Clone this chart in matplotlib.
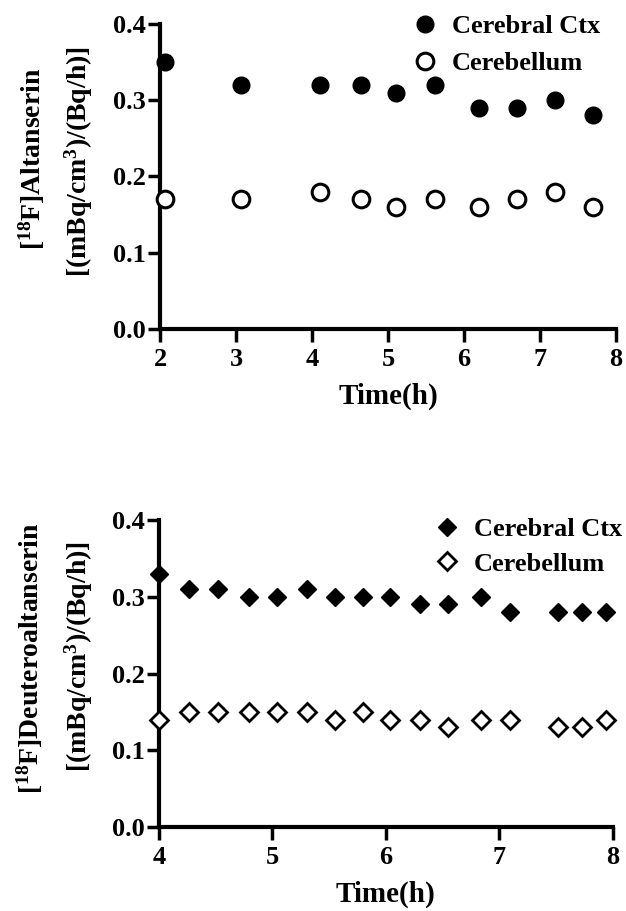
import numpy as np
import matplotlib
matplotlib.use("Agg")
import matplotlib.pyplot as plt
from matplotlib.lines import Line2D

plt.rcParams['font.family'] = 'Liberation Serif'
plt.rcParams['font.weight'] = 'bold'
plt.rcParams['mathtext.fontset'] = 'custom'
plt.rcParams['mathtext.rm'] = 'Liberation Serif:bold'
plt.rcParams['mathtext.bf'] = 'Liberation Serif:bold'
plt.rcParams['mathtext.default'] = 'bf'

# top panel: [18F]Altanserin
t_alt = [2.07, 3.07, 4.1, 4.64, 5.1, 5.62, 6.2, 6.7, 7.2, 7.7]
ctx_alt = [0.35, 0.32, 0.32, 0.32, 0.31, 0.32, 0.29, 0.29, 0.30, 0.28]
cb_alt = [0.17, 0.17, 0.18, 0.17, 0.16, 0.17, 0.16, 0.17, 0.18, 0.16]

# bottom panel: [18F]Deuteroaltanserin
t_deu = [4.0, 4.26, 4.52, 4.79, 5.04, 5.3, 5.55, 5.8, 6.04, 6.3, 6.55, 6.84, 7.09, 7.52, 7.73, 7.94]
ctx_deu = [0.33, 0.31, 0.31, 0.30, 0.30, 0.31, 0.30, 0.30, 0.30, 0.29, 0.29, 0.30, 0.28, 0.28, 0.28, 0.28]
cb_deu = [0.14, 0.15, 0.15, 0.15, 0.15, 0.15, 0.14, 0.15, 0.14, 0.14, 0.13, 0.14, 0.14, 0.13, 0.13, 0.14]

yticks = [0.0, 0.1, 0.2, 0.3, 0.4]

fig = plt.figure(figsize=(6.26, 9.11), dpi=100)
ax1 = fig.add_axes([0.2556, 0.6389, 0.7284, 0.3348])
ax2 = fig.add_axes([0.254, 0.0922, 0.725, 0.337])


def style(ax, xlim, xticks):
    ax.set_xlim(xlim)
    ax.set_ylim(0, 0.4)
    ax.set_xticks(xticks)
    ax.set_yticks(yticks)
    ax.set_yticklabels(['%.1f' % v for v in yticks])
    for s in ['top', 'right']:
        ax.spines[s].set_visible(False)
    for s in ['left', 'bottom']:
        ax.spines[s].set_linewidth(3)
    ax.tick_params(width=2.5, length=9, labelsize=19)
    ax.tick_params(axis='y', pad=1)
    ax.tick_params(axis='x', pad=5)
    for lab in ax.get_xticklabels() + ax.get_yticklabels():
        lab.set_fontweight('bold')
    ax.set_xlabel('Time(h)', fontsize=21, fontweight='bold', labelpad=8)


ax1.plot(t_alt, ctx_alt, 'o', color='black', markersize=12, clip_on=False, zorder=5)
ax1.plot(t_alt, cb_alt, 'o', markerfacecolor='white', markeredgecolor='black',
         markeredgewidth=2.2, markersize=12, clip_on=False, zorder=5)
style(ax1, (2, 8), [2, 3, 4, 5, 6, 7, 8])

ax2.plot(t_deu, ctx_deu, 'D', color='black', markersize=9.5, clip_on=False, zorder=5)
ax2.plot(t_deu, cb_deu, 'D', markerfacecolor='white', markeredgecolor='black',
         markeredgewidth=2, markersize=9.5, clip_on=False, zorder=5)
style(ax2, (4, 8), [4, 5, 6, 7, 8])

h1 = [Line2D([], [], ls='none', marker='o', color='black', markersize=12),
      Line2D([], [], ls='none', marker='o', markerfacecolor='white', markeredgecolor='black',
             markeredgewidth=2.2, markersize=12)]
ax1.legend(h1, ['Cerebral Ctx', 'Cerebellum'], loc='upper left', bbox_to_anchor=(0.501, 1.108),
           frameon=False, handlelength=1.0, handletextpad=0.5, labelspacing=0.5,
           prop={'size': 19, 'weight': 'bold'})

h2 = [Line2D([], [], ls='none', marker='D', color='black', markersize=9.5),
      Line2D([], [], ls='none', marker='D', markerfacecolor='white', markeredgecolor='black',
             markeredgewidth=2, markersize=9.5)]
ax2.legend(h2, ['Cerebral Ctx', 'Cerebellum'], loc='upper left', bbox_to_anchor=(0.554, 1.085),
           frameon=False, handlelength=1.0, handletextpad=0.5, labelspacing=0.42,
           prop={'size': 19, 'weight': 'bold'})

fig.text(32 / 626, 1 - 159 / 911, r'[$^{18}$F]Altanserin', rotation=90,
         ha='center', va='center', fontsize=20, fontweight='bold')
fig.text(79 / 626, 1 - 162 / 911, r'[(mBq/cm$^{3}$)/(Bq/h)]', rotation=90,
         ha='center', va='center', fontsize=20, fontweight='bold')
fig.text(30 / 626, 1 - 658 / 911, r'[$^{18}$F]Deuteroaltanserin', rotation=90,
         ha='center', va='center', fontsize=20, fontweight='bold')
fig.text(79 / 626, 1 - 657 / 911, r'[(mBq/cm$^{3}$)/(Bq/h)]', rotation=90,
         ha='center', va='center', fontsize=20, fontweight='bold')

fig.savefig('out.png', dpi=100)
